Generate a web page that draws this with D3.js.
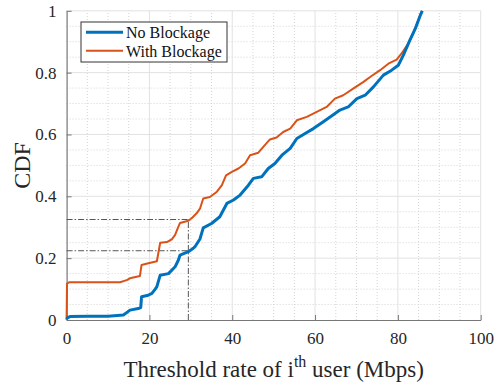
<!DOCTYPE html>
<html>
<head>
<meta charset="utf-8">
<script src="https://cdn.jsdelivr.net/npm/d3@7"></script>
<style>
  html, body { margin: 0; padding: 0; background: #fff; }
  svg { display: block; }
</style>
</head>
<body>
<svg id="chart" width="502" height="388"></svg>
<script>
// CDF of the per-user threshold rate, with and without blockage
const noBlockRate = [0, 0.2, 0.8, 5, 10, 13.7, 14.5, 15.3, 17.3, 17.9, 18.1, 19.7, 20.6, 21.4, 21.8, 22.6, 24.6, 26.2, 27, 27.4, 29.4, 30.6, 31, 32.2, 33, 35, 37, 38.7, 40.3, 41.9, 43.9, 45.1, 47.1, 48.7, 50.3, 52, 54, 55.6, 57.6, 59.6, 62, 64.4, 66, 68, 70.1, 72.1, 74.1, 76.5, 78.5, 80.1, 81.3, 82.9, 84.2, 85.4, 85.9];
const noBlockCdf  = [0.003, 0.007, 0.011, 0.012, 0.012, 0.016, 0.024, 0.032, 0.037, 0.04, 0.075, 0.08, 0.086, 0.1, 0.108, 0.145, 0.15, 0.172, 0.194, 0.21, 0.221, 0.232, 0.237, 0.262, 0.298, 0.312, 0.334, 0.377, 0.388, 0.404, 0.436, 0.458, 0.463, 0.49, 0.506, 0.533, 0.555, 0.587, 0.603, 0.619, 0.641, 0.664, 0.679, 0.689, 0.716, 0.727, 0.754, 0.792, 0.808, 0.824, 0.856, 0.905, 0.942, 0.985, 1];

const blockRate = [0, 0.1, 0.6, 12.9, 14.5, 15.3, 17.7, 18.1, 19.5, 21.8, 22.6, 24.2, 25.4, 26.2, 27, 27.4, 29.4, 30.2, 31.4, 32.2, 33, 34.6, 36.3, 37.5, 38.5, 39.9, 41.5, 43.1, 44.3, 46.3, 47.5, 49.1, 50.7, 52.3, 54, 55.6, 58, 60.4, 62.8, 64.8, 66.8, 69.3, 71.7, 73.3, 75.7, 77.7, 79.7, 80.9, 82.5, 83.7, 84.9, 85.8];
const blockCdf  = [0, 0.118, 0.122, 0.122, 0.129, 0.135, 0.142, 0.178, 0.183, 0.19, 0.25, 0.252, 0.261, 0.275, 0.302, 0.314, 0.321, 0.329, 0.345, 0.36, 0.393, 0.398, 0.415, 0.436, 0.468, 0.479, 0.49, 0.506, 0.533, 0.541, 0.56, 0.584, 0.59, 0.608, 0.619, 0.646, 0.657, 0.673, 0.689, 0.716, 0.727, 0.749, 0.77, 0.786, 0.808, 0.829, 0.842, 0.862, 0.894, 0.926, 0.969, 1];

const seriesNames = ["No Blockage", "With Blockage"];
const seriesColors = ["#0072BD", "#D95319"];

const xTicks = [0, 20, 40, 60, 80, 100];
const yTicks = [0, 0.2, 0.4, 0.6, 0.8, 1];

const refRate = [29.4];
const refCdf = [0.224, 0.325];

const svg = d3.select("#chart");
const plotL = 66.6, plotR = 480.7, plotT = 10.8, plotB = 320;

const x = d3.scaleLinear().domain([0, 100]).range([plotL, plotR]);
const y = d3.scaleLinear().domain([0, 1]).range([plotB, plotT]);

const font = "'Liberation Serif', 'Times New Roman', serif";

// minor grid (dotted)
const gMinor = svg.append("g");
gMinor.selectAll("line.vx").data(d3.range(5, 100, 5).filter(v => v % 20 !== 0)).join("line")
  .attr("x1", d => x(d)).attr("x2", d => x(d)).attr("y1", y(0)).attr("y2", y(1))
  .attr("stroke", "#d4d4d4").attr("stroke-width", 1).attr("stroke-dasharray", "1,2");
gMinor.selectAll("line.hy").data(d3.range(0.05, 1, 0.05).filter(v => Math.abs(v * 5 - Math.round(v * 5)) > 1e-6)).join("line")
  .attr("y1", d => y(d)).attr("y2", d => y(d)).attr("x1", x(0)).attr("x2", x(100))
  .attr("stroke", "#d4d4d4").attr("stroke-width", 1).attr("stroke-dasharray", "1,2");

// major grid
const gMajor = svg.append("g");
gMajor.selectAll("line.v").data(xTicks.slice(1)).join("line")
  .attr("x1", d => x(d)).attr("x2", d => x(d)).attr("y1", y(0)).attr("y2", y(1))
  .attr("stroke", "#e2e2e2").attr("stroke-width", 1);
gMajor.selectAll("line.h").data(yTicks.slice(1)).join("line")
  .attr("y1", d => y(d)).attr("y2", d => y(d)).attr("x1", x(0)).attr("x2", x(100))
  .attr("stroke", "#e2e2e2").attr("stroke-width", 1);

// axes
const xAxis = d3.axisBottom(x).tickValues(xTicks).tickSizeInner(-5).tickSizeOuter(0).tickPadding(12)
  .tickFormat(d3.format("d"));
const yAxis = d3.axisLeft(y).tickValues(yTicks).tickSizeInner(-5).tickSizeOuter(0).tickPadding(10)
  .tickFormat(d => d === 0 || d === 1 ? String(d) : d3.format(".1f")(d));

const gx = svg.append("g").attr("transform", `translate(0,${plotB})`).call(xAxis);
const gy = svg.append("g").attr("transform", `translate(${plotL},0)`).call(yAxis);
[gx, gy].forEach(g => {
  g.select(".domain").attr("stroke", "#777").attr("stroke-width", 1.2);
  g.selectAll(".tick line").attr("stroke", "#777");
  g.selectAll(".tick text").attr("fill", "#262626").style("font-family", font).style("font-size", "17px");
});

// reference dash-dot lines
const refStyle = sel => sel.attr("stroke", "#555").attr("stroke-width", 1).attr("stroke-dasharray", "6,2,1.5,2").attr("fill", "none");
svg.append("g").selectAll("line.ref").data(refCdf).join("line")
  .attr("x1", x(0)).attr("x2", x(refRate[0])).attr("y1", d => y(d)).attr("y2", d => y(d)).call(refStyle);
svg.append("line").attr("x1", x(refRate[0])).attr("x2", x(refRate[0]))
  .attr("y1", y(0)).attr("y2", y(d3.max(refCdf))).call(refStyle);

// CDF curves
const line = d3.line().x(d => x(d[0])).y(d => y(d[1]));
const series = [
  { pts: noBlockRate.map((r, i) => [r, noBlockCdf[i]]), color: seriesColors[0], w: 3 },
  { pts: blockRate.map((r, i) => [r, blockCdf[i]]), color: seriesColors[1], w: 2 }
];
// orange drawn first so the blue sits on top where they merge
[series[1], series[0]].forEach(s => {
  svg.append("path").datum(s.pts).attr("d", line)
    .attr("fill", "none").attr("stroke", s.color).attr("stroke-width", s.w)
    .attr("stroke-linejoin", "round");
});

// legend
const lg = svg.append("g");
lg.append("rect").attr("x", 81).attr("y", 22).attr("width", 146).attr("height", 40)
  .attr("fill", "#fff").attr("stroke", "#333").attr("stroke-width", 1);
seriesNames.forEach((name, i) => {
  const ly = 32.3 + i * 18.4;
  lg.append("line").attr("x1", 86).attr("x2", 123).attr("y1", ly).attr("y2", ly)
    .attr("stroke", seriesColors[i]).attr("stroke-width", i === 0 ? 3 : 2);
  lg.append("text").attr("x", 126).attr("y", ly + 6).text(name)
    .attr("fill", "#111").style("font-family", font).style("font-size", "16px");
});

// axis titles
const xt = svg.append("text").attr("x", (plotL + plotR) / 2).attr("y", 377)
  .attr("text-anchor", "middle").attr("fill", "#262626")
  .style("font-family", font).style("font-size", "23px");
xt.append("tspan").text("Threshold rate of i");
xt.append("tspan").attr("dy", -10).style("font-size", "16px").text("th");
xt.append("tspan").attr("dy", 10).text(" user (Mbps)");

svg.append("text").attr("transform", `translate(30,${(plotT + plotB) / 2}) rotate(-90)`)
  .attr("text-anchor", "middle").attr("fill", "#262626")
  .style("font-family", font).style("font-size", "24px").text("CDF");
</script>
</body>
</html>
